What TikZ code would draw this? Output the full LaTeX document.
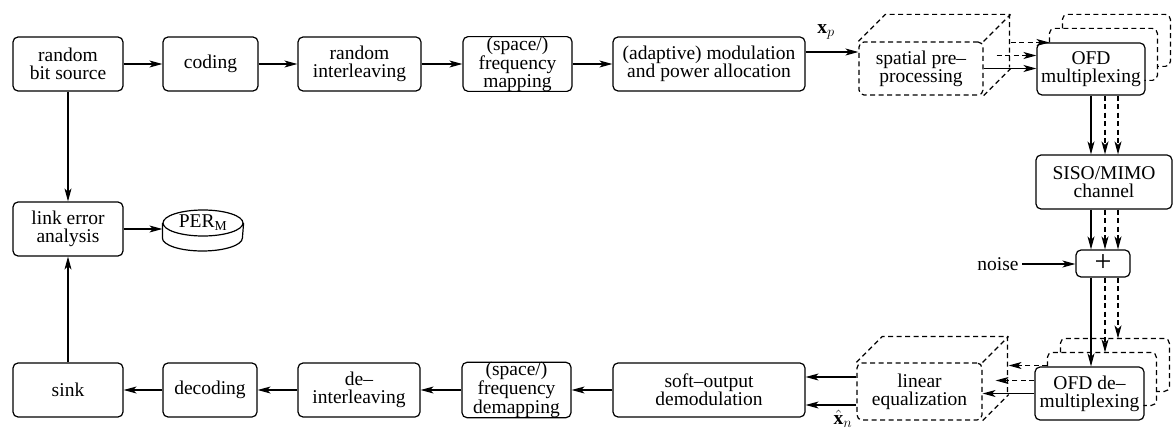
\documentclass[tikz,border=0pt]{standalone}
\usepackage{fontspec}
\setmainfont{Liberation Serif}
\usetikzlibrary{arrows.meta,shapes.geometric,calc}
\begin{document}
\begin{tikzpicture}[x=1pt,y=-1pt,
  font=\fontsize{19.5}{18}\selectfont,
  box/.style={draw, rounded corners=5pt, line width=1.2pt, inner sep=0pt, align=center},
  three/.style={font=\fontsize{19.5}{15.5}\selectfont},
  dsh/.style={dash pattern=on 5pt off 3.5pt, line width=1.2pt},
  arr/.style={-{Stealth[length=13pt,width=7pt,inset=3.5pt]}, line width=1.2pt},
]
\useasboundingbox (0,0) rectangle (1176,433);

% top row
\node[box, minimum width=110pt, minimum height=54pt] (src) at (68,64) {random\\bit source};
\node[box, minimum width=95pt, minimum height=54pt] (cod) at (210.5,64) {coding};
\node[box, minimum width=123pt, minimum height=54pt] (intl) at (359.5,64) {random\\interleaving};
\node[box, three, minimum width=109pt, minimum height=54pt] (map) at (517.5,64) {(space/)\\frequency\\mapping};
\node[box, minimum width=192pt, minimum height=54pt] (mod) at (709,64) {(adaptive) modulation\\and power allocation};
\node[box, dsh, minimum width=124pt, minimum height=53pt] (sp) at (921,68.5) {spatial pre--\\processing};
\node[box, minimum width=108pt, minimum height=52pt] (mux) at (1091,69) {OFD\\multiplexing};

% right column
\node[box, minimum width=136pt, minimum height=54pt] (siso) at (1104,182) {SISO/MIMO\\channel};
\node[box, font=\fontsize{30}{30}\selectfont, minimum width=54pt, minimum height=27pt] (plus) at (1103,263.5) {+};
\node (noise) at (998,264) {noise};

% bottom row
\node[box, minimum width=109pt, minimum height=53pt] (demux) at (1089.5,393.5) {OFD de--\\multiplexing};
\node[box, dsh, minimum width=125pt, minimum height=57pt] (leq) at (919.5,391.5) {linear\\equalization};
\node[box, minimum width=192pt, minimum height=54pt] (demod) at (709,390) {soft--output\\demodulation};
\node[box, three, minimum width=109pt, minimum height=54pt] (demap) at (516.5,390) {(space/)\\frequency\\demapping};
\node[box, minimum width=122pt, minimum height=54pt] (deint) at (359,390) {de--\\interleaving};
\node[box, minimum width=94pt, minimum height=54pt] (dec) at (210,390) {decoding};
\node[box, minimum width=110pt, minimum height=54pt] (sink) at (68,390) {sink};

% left column
\node[box, minimum width=110pt, minimum height=54pt] (link) at (68,229) {link error\\analysis};
\node[ellipse, draw, line width=1.2pt, inner sep=0pt, minimum width=80pt, minimum height=26pt] (per) at (203,223) {PER\textsubscript{M}};
\draw[line width=1.2pt] (per.west) -- ++(0,15) arc[start angle=180, end angle=0, x radius=40, y radius=13] -- (per.east);

% labels
\node (xp) at (826,32) {$\mathbf{x}_p$};
\node[inner sep=1pt] (xn) at (843,419) {$\hat{\mathbf{x}}_n$};

% 3D spatial pre-processing
\draw[dsh] (sp.north west) -- ++(27,-27) -- ++(124,0) -- ++(0,53);
\draw[dsh] (sp.north east) -- ++(27,-27);
\draw[dsh] (sp.south east) -- ++(27,-27);

% 3D linear equalization
\draw[dsh] (leq.north west) -- ++(26,-26) -- ++(125,0) -- ++(0,57);
\draw[dsh] (leq.north east) -- ++(26,-26);
\draw[dsh] (leq.south east) -- ++(26,-26);

% stacked copies of mux
\draw[dsh, rounded corners=5pt] ([xshift=13pt]mux.north west) -- ++(0,-14) -- ++(108,0) -- ++(0,52) -- ++(-13,0);
\draw[dsh, rounded corners=5pt] ([xshift=26pt,yshift=14pt]mux.north west) -- ++(0,-14) -- ++(108,0) -- ++(0,52) -- ++(-13,0);
\coordinate (m2) at ([shift={(13,-14)}]mux.north west);

% stacked copies of demux
\draw[dsh, rounded corners=5pt] ([xshift=13pt]demux.north west) -- ++(0,-14) -- ++(109,0) -- ++(0,53) -- ++(-13,0);
\draw[dsh, rounded corners=5pt] ([xshift=26pt,yshift=14pt]demux.north west) -- ++(0,-14) -- ++(109,0) -- ++(0,53) -- ++(-13,0);
\coordinate (d2) at ([shift={(13,-14)}]demux.north west);
\coordinate (d3) at ([shift={(26,-28)}]demux.north west);

% top row arrows
\draw[arr] (src) -- (cod);
\draw[arr] (cod) -- (intl);
\draw[arr] (intl) -- (map);
\draw[arr] (map) -- (mod);
\draw[arr] ([yshift=12pt]mod.east) -- ([yshift=16.5pt]sp.west);

% spatial -> mux
\draw[arr] (sp.east) -- (sp.east -| mux.west);
\coordinate (s2) at ([shift={(13,-13)}]sp.east);
\coordinate (s3) at ([shift={(27,-26)}]sp.east);
\draw[arr, dsh] (s2) -- (s2 -| mux.west);
\draw[arr, dsh] (s3) -- (s3 -| m2);

% vertical arrows
\coordinate (c1) at (mux.south);
\coordinate (c2) at ([xshift=14pt]mux.south);
\coordinate (c3) at ([xshift=27pt]mux.south);
\draw[arr] (c1) -- (c1 |- siso.north);
\draw[arr, dsh] (c2) -- (c2 |- siso.north);
\draw[arr, dsh] (c3) -- (c3 |- siso.north);
\draw[arr] (c1 |- siso.south) -- (c1 |- plus.north);
\draw[arr, dsh] (c2 |- siso.south) -- (c2 |- plus.north);
\draw[arr, dsh] (c3 |- siso.south) -- (c3 |- plus.north);
\draw[arr] (c1 |- plus.south) -- (c1 |- demux.north);
\draw[arr, dsh] (c2 |- plus.south) -- (c2 |- d2);
\draw[arr, dsh] (c3 |- plus.south) -- (c3 |- d3);
\draw[arr] (noise.east) -- (noise.east -| plus.west);

% demux -> leq
\coordinate (l2) at ([shift={(13,-13)}]leq.east);
\coordinate (l3) at ([shift={(26,-26)}]leq.east);
\draw[arr] (demux.west) -- (demux.west -| leq.east);
\draw[arr, dsh] ([yshift=13pt]demux.west) -- ([yshift=13pt]demux.west -| l2);
\draw[arr, dsh] (l3 -| d2) -- (l3);

% leq -> demod
\draw[arr] ([yshift=14.5pt]leq.west) -- ([yshift=14.5pt]leq.west -| demod.east);
\draw[arr] ([yshift=-13.5pt]leq.west) -- ([yshift=-13.5pt]leq.west -| demod.east);

% bottom row arrows
\draw[arr] (demod) -- (demap);
\draw[arr] (demap) -- (deint);
\draw[arr] (deint) -- (dec);
\draw[arr] (dec) -- (sink);

% left column
\draw[arr] (src.south) -- (link.north);
\draw[arr] (sink.north) -- (link.south);
\draw[arr] (link.east) -- (link.east -| per.west);
\end{tikzpicture}
\end{document}
